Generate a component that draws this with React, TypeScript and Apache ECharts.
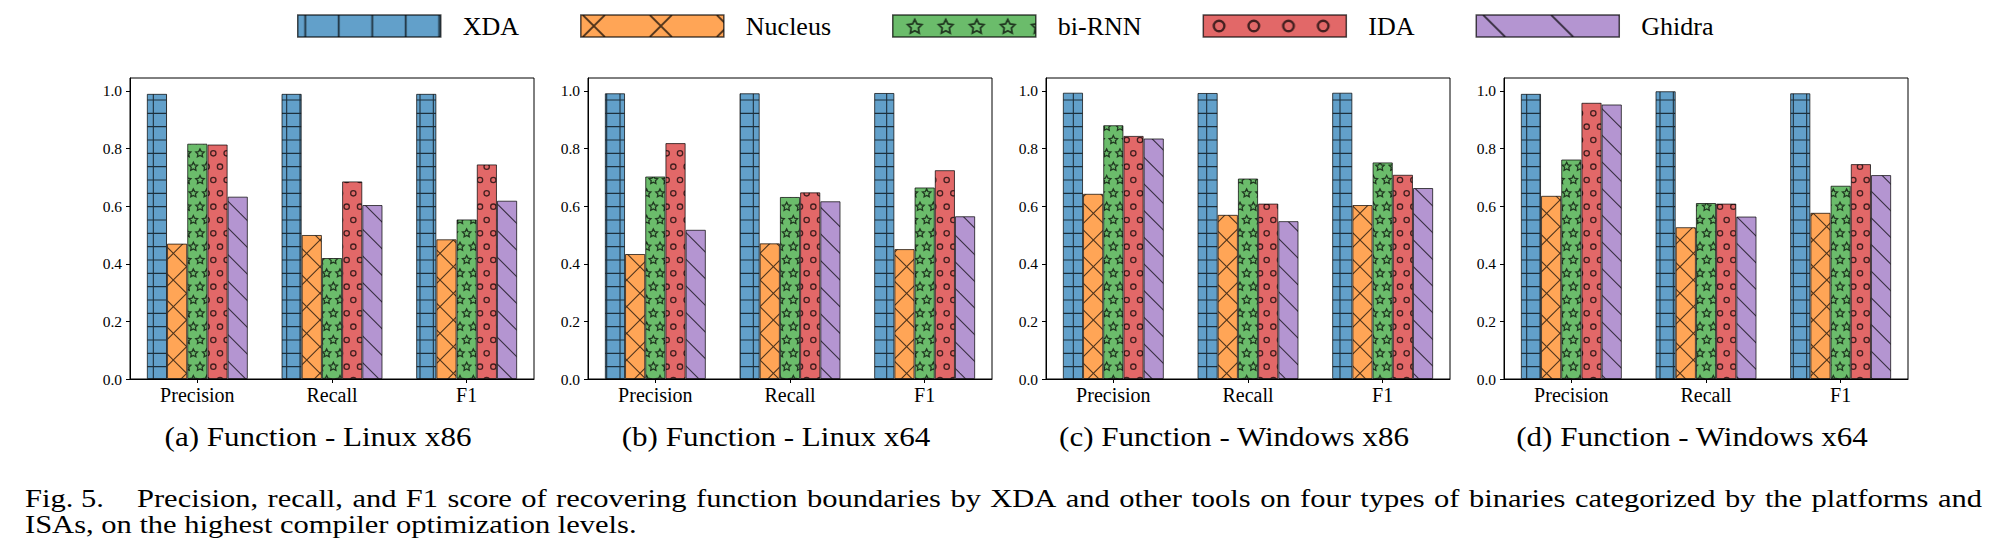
import React, { useEffect, useRef } from "react";
import * as echarts from "echarts";

const tools = ["XDA", "Nucleus", "bi-RNN", "IDA", "Ghidra"];
const metrics = ["Precision", "Recall", "F1"];
const yTickValues = [0, 0.2, 0.4, 0.6, 0.8, 1.0];
const panelCaptions = [
  "(a) Function - Linux x86",
  "(b) Function - Linux x64",
  "(c) Function - Windows x86",
  "(d) Function - Windows x64",
];

// rows: XDA, Nucleus, bi-RNN, IDA, Ghidra ; columns: Precision, Recall, F1
const linuxX86 = [
  [0.99, 0.99, 0.99],
  [0.47, 0.5, 0.485],
  [0.817, 0.42, 0.554],
  [0.814, 0.686, 0.745],
  [0.633, 0.604, 0.619],
];
const linuxX64 = [
  [0.992, 0.992, 0.993],
  [0.434, 0.471, 0.451],
  [0.703, 0.632, 0.665],
  [0.819, 0.648, 0.725],
  [0.518, 0.617, 0.565],
];
const windowsX86 = [
  [0.994, 0.993, 0.994],
  [0.643, 0.57, 0.604],
  [0.881, 0.696, 0.752],
  [0.844, 0.609, 0.709],
  [0.835, 0.548, 0.663],
];
const windowsX64 = [
  [0.99, 0.999, 0.992],
  [0.636, 0.527, 0.577],
  [0.762, 0.611, 0.671],
  [0.959, 0.609, 0.746],
  [0.953, 0.564, 0.708],
];
const panels = [linuxX86, linuxX64, windowsX86, windowsX64];

const figLabel = "Fig. 5.";
const figLine1 =
  "Precision, recall, and F1 score of recovering function boundaries by XDA and other tools on four types of binaries categorized by the platforms and";
const figLine2 = "ISAs, on the highest compiler optimization levels.";

const FONT = "Liberation Serif";
const toolColors = ["#62a0ca", "#ffa556", "#6bbc6b", "#e26868", "#b495d1"];
const hatchKinds = ["+", "x", "*", "o", "\\"];
const EDGE = "rgba(0,0,0,0.7)";

function darken(hex: string, f: number) {
  const n = parseInt(hex.slice(1), 16);
  const r = Math.round(((n >> 16) & 255) * f);
  const g = Math.round(((n >> 8) & 255) * f);
  const b = Math.round((n & 255) * f);
  return `rgb(${r},${g},${b})`;
}

function dataUrl(w: number, h: number, body: string) {
  const svg = `<svg xmlns="http://www.w3.org/2000/svg" width="${w}" height="${h}" viewBox="0 0 ${w} ${h}">${body}</svg>`;
  return "data:image/svg+xml;charset=utf-8," + encodeURIComponent(svg);
}

function starPoints(cx: number, cy: number, R: number) {
  const pts: string[] = [];
  for (let i = 0; i < 10; i++) {
    const a = Math.PI / 2 + (i * Math.PI) / 5;
    const r = i % 2 === 0 ? R : R * 0.5;
    pts.push(`${(cx + r * Math.cos(a)).toFixed(2)},${(cy - r * Math.sin(a)).toFixed(2)}`);
  }
  return pts.join(" ");
}

const U = 80 / 6;

function plotPattern(kind: string, color: string) {
  const hc = darken(color, 0.3);
  const sw = 1.1;
  let body = `<rect x="0" y="0" width="80" height="80" fill="${color}"/>`;
  const line = (x1: number, y1: number, x2: number, y2: number, w = sw) =>
    `<line x1="${x1.toFixed(2)}" y1="${y1.toFixed(2)}" x2="${x2.toFixed(2)}" y2="${y2.toFixed(2)}" stroke="${hc}" stroke-width="${w}"/>`;
  if (kind === "+") {
    for (let i = 0; i < 6; i++) {
      const p = i * U + U / 2;
      body += line(0, p, 80, p);
      body += line(p, 0, p, 80);
    }
  } else if (kind === "x" || kind === "\\") {
    for (let k = -4; k <= 4; k++) {
      const c = k * 2 * U;
      body += line(-5, -5 + c, 85, 85 + c);
    }
    if (kind === "x") {
      for (let k = -1; k <= 8; k++) {
        const c = k * 2 * U;
        body += line(-5, 5 + c, 85, -85 + c);
      }
    }
  } else {
    for (let r = 0; r < 6; r++) {
      const y = r * U + U / 2;
      const xs: number[] = [];
      if (r % 2 === 0) for (let j = 0; j < 6; j++) xs.push(j * U + U / 2);
      else for (let j = 0; j <= 6; j++) xs.push(j * U);
      for (const x of xs) {
        if (kind === "*") {
          body += `<polygon points="${starPoints(x, y, 4.44)}" fill="none" stroke="${hc}" stroke-width="1.3"/>`;
        } else {
          body += `<circle cx="${x.toFixed(2)}" cy="${y.toFixed(2)}" r="2.67" fill="none" stroke="${hc}" stroke-width="1.3"/>`;
        }
      }
    }
  }
  return { image: dataUrl(80, 80, body), repeat: "repeat", imageWidth: 80, imageHeight: 80 };
}

function legendPattern(kind: string, color: string) {
  const hc = darken(color, 0.3);
  const H = 22;
  let w = 34;
  let body = "";
  const line = (x1: number, y1: number, x2: number, y2: number, sw = 1.8) =>
    `<line x1="${x1}" y1="${y1}" x2="${x2}" y2="${y2}" stroke="${hc}" stroke-width="${sw}"/>`;
  if (kind === "+") {
    w = 33.5;
    body = line(7.5, 0, 7.5, H);
  } else if (kind === "x") {
    w = 67;
    body = line(2, 0, 24, H) + line(2, H, 24, 0);
  } else if (kind === "*") {
    w = 31;
    body = `<polygon points="${starPoints(22, 12, 7.5)}" fill="none" stroke="${hc}" stroke-width="1.8"/>`;
  } else if (kind === "o") {
    w = 34.7;
    body = `<circle cx="15.8" cy="11" r="5.3" fill="none" stroke="${hc}" stroke-width="2.4"/>`;
  } else {
    w = 68;
    body = line(7, 0, 29, H) + line(75, 0, 97, H);
  }
  body = `<rect x="0" y="0" width="${w}" height="${H}" fill="${color}"/>` + body;
  return { image: dataUrl(w, H, body), repeat: "repeat", imageWidth: w, imageHeight: H };
}

const gridLefts = [130, 588, 1046, 1504];
const GRID_W = 404;
const GRID_TOP = 78;
const GRID_H = 301;

function measure(text: string, size: number) {
  const ctx = document.createElement("canvas").getContext("2d");
  if (!ctx) return text.length * size * 0.45;
  ctx.font = `${size}px "Liberation Serif"`;
  return ctx.measureText(text).width;
}

export default function App() {
  const ref = useRef<HTMLDivElement>(null);

  useEffect(() => {
    if (!ref.current) return;
    const chart = echarts.init(ref.current, undefined, { renderer: "svg" });

    const grids = gridLefts.map((left) => ({
      left,
      top: GRID_TOP,
      width: GRID_W,
      height: GRID_H,
      show: true,
      borderColor: "#000",
      borderWidth: 1,
      backgroundColor: "transparent",
    }));

    const xAxes = gridLefts.map((_, i) => ({
      gridIndex: i,
      type: "category",
      data: metrics,
      axisLine: { show: true, lineStyle: { color: "#000", width: 1 } },
      axisTick: { show: true, alignWithLabel: true, length: 4, lineStyle: { color: "#000" } },
      axisLabel: { fontFamily: FONT, fontSize: 20, color: "#000", margin: 6 },
      splitLine: { show: false },
    }));

    const yAxes = gridLefts.map((_, i) => ({
      gridIndex: i,
      type: "value",
      min: 0,
      max: 1.045,
      axisLine: { show: true, lineStyle: { color: "#000", width: 1 } },
      axisTick: { show: true, length: 4, lineStyle: { color: "#000" }, customValues: yTickValues },
      axisLabel: {
        fontFamily: FONT,
        fontSize: 15.5,
        color: "#000",
        margin: 8,
        customValues: yTickValues,
        formatter: (v: number) =>
          Math.abs(v * 5 - Math.round(v * 5)) < 1e-6 && v <= 1.0001 ? v.toFixed(1) : "",
      },
      splitLine: { show: false },
    }));

    const plotPatterns = tools.map((_, t) => plotPattern(hatchKinds[t], toolColors[t]));
    const legPatterns = tools.map((_, t) => legendPattern(hatchKinds[t], toolColors[t]));

    const series: any[] = [];
    panels.forEach((panel, i) => {
      tools.forEach((name, t) => {
        series.push({
          type: "bar",
          name,
          xAxisIndex: i,
          yAxisIndex: i,
          data: panel[t],
          barWidth: (GRID_W / 3) * 0.15,
          barGap: "0%",
          itemStyle: { color: plotPatterns[t], borderColor: EDGE, borderWidth: 1 },
          emphasis: { disabled: true },
          silent: true,
        });
      });
    });

    const graphics: any[] = [];
    const SUB_SIZE = 28;
    const subScale = 307 / measure(panelCaptions[0], SUB_SIZE);
    panelCaptions.forEach((text, i) => {
      graphics.push({
        type: "text",
        x: gridLefts[i] + GRID_W / 2 - 14,
        y: 437,
        scaleX: subScale,
        style: { text, fontFamily: FONT, fontSize: SUB_SIZE, fill: "#000", align: "center", verticalAlign: "middle" },
      });
    });

    const CAP_SIZE = 25;
    const capScale = 612 / measure(figLine2, CAP_SIZE);
    const capText = (text: string, x: number, y: number) => ({
      type: "text",
      x,
      y,
      scaleX: capScale,
      style: { text, fontFamily: FONT, fontSize: CAP_SIZE, fill: "#000", align: "left", verticalAlign: "middle" },
    });
    graphics.push(capText(figLabel, 25, 498.5));
    const words = figLine1.split(" ");
    const widths = words.map((w) => measure(w, CAP_SIZE) * capScale);
    const start = 137;
    const end = 1982;
    const total = widths.reduce((a, b) => a + b, 0);
    const gap = (end - start - total) / (words.length - 1);
    let cx = start;
    words.forEach((w, k) => {
      graphics.push(capText(w, cx, 498.5));
      cx += widths[k] + gap;
    });
    graphics.push(capText(figLine2, 25, 524.5));

    chart.setOption({
      animation: false,
      backgroundColor: "#fff",
      legend: {
        show: true,
        left: 297,
        top: 13,
        padding: 0,
        itemWidth: 143,
        itemHeight: 22,
        itemGap: 61,
        icon: "rect",
        selectedMode: false,
        textStyle: { fontFamily: FONT, fontSize: 26, color: "#000", padding: [0, 0, 0, 17] },
        data: tools.map((name, t) => ({
          name,
          icon: "rect",
          itemStyle: { color: legPatterns[t], borderColor: EDGE, borderWidth: 1.5 },
        })),
      },
      grid: grids,
      xAxis: xAxes,
      yAxis: yAxes,
      series,
      graphic: graphics,
    } as any);

    return () => chart.dispose();
  }, []);

  return (
    <div
      ref={ref}
      style={{ position: "absolute", left: 0, top: 0, width: 2000, height: 539 }}
    />
  );
}
